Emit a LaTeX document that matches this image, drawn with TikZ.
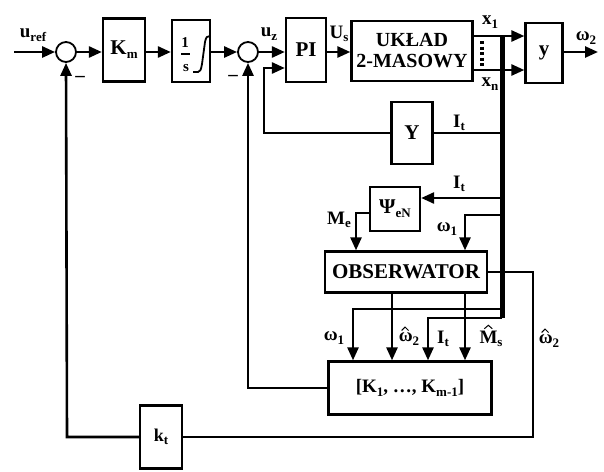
\documentclass[tikz,border=0pt]{standalone}
\usepackage{fontspec}
\setmainfont{Liberation Serif}
\usetikzlibrary{arrows.meta,calc}
\newcommand\lo[1]{\raisebox{-0.4ex}{\fontsize{13}{13}\selectfont #1}}
\begin{document}
\begin{tikzpicture}[x=1pt,y=-1pt,
  every node/.style={font=\fontsize{21}{23}\selectfont\bfseries},
  blk/.style={draw,line width=2.3pt,inner sep=0pt},
  sumc/.style={draw,circle,line width=1.8pt,minimum size=20pt,inner sep=0pt},
  ln/.style={line width=2.6pt},
  arr/.style={line width=2.6pt,-{Triangle[length=13pt,width=11pt]}},
  hatmark/.style={line width=1pt,line join=miter},
  lbl/.style={inner sep=0pt,font=\fontsize{19}{21}\selectfont\bfseries}]
\useasboundingbox (0,0) rectangle (604,471);
% blocks
\node[sumc] (s1) at (66,52) {};
\node[blk,minimum width=42pt,minimum height=63pt] (Km) at (124,50) {K\lo{m}};
\node[blk,minimum width=38pt,minimum height=62pt] (ig) at (191,51) {};
\node[sumc] (s2) at (248,52) {};
\node[blk,minimum width=40pt,minimum height=64pt] (PI) at (306,50) {PI};
\node[blk,minimum width=121pt,minimum height=60pt,align=center,font=\fontsize{20}{21}\selectfont\bfseries] (UK) at (412,51) {UKŁAD\\2-MASOWY};
\node[blk,minimum width=37pt,minimum height=60pt] (yb) at (544,53) {y};
\node[blk,minimum width=41pt,minimum height=62pt] (Yb) at (412,133) {Y};
\node[blk,minimum width=50pt,minimum height=44pt] (Psi) at (395,209) {Ψ\lo{eN}};
\node[blk,minimum width=162pt,minimum height=41pt] (Obs) at (406,272) {OBSERWATOR};
\node[blk,minimum width=163pt,minimum height=53pt,font=\fontsize{19}{21}\selectfont\bfseries] (Kb) at (410,388) {[K\lo{1}, …, K\lo{m-1}]};
\node[blk,minimum width=42pt,minimum height=63pt,font=\fontsize{18}{20}\selectfont\bfseries] (kt) at (161,437) {k\lo{t}};
% integrator contents
\node[inner sep=0pt,font=\fontsize{15}{16}\selectfont\bfseries] (one) at (185,43) {1};
\node[inner sep=0pt,font=\fontsize{15}{16}\selectfont\bfseries] (ess) at (186,68) {s};
\draw[line width=1.2pt] (181,54) -- (190,54);
\draw[line width=1.8pt] (193,72) -- (198,72) .. controls (200,72) and (201,70) .. (202,64) -- (205,42) .. controls (206,37) and (207,36) .. (210,36);
% input and forward path
\coordinate (in) at (14,52);
\draw[arr] (in) -- (s1.west);
\draw[arr] (s1.east) -- (s1.east -| Km.west);
\draw[arr] (Km.east |- s1.east) -- (ig.west |- s1.east);
\draw[arr] (ig.east |- s1.east) -- (s2.west);
\draw[arr] (s2.east) -- (s2.east -| PI.west);
\draw[arr] (PI.east |- s2.east) -- (UK.west |- s2.east);
\draw[arr] (UK.east |- 0,36) -- (yb.west |- 0,36);
\draw[arr] (UK.east |- 0,70) -- (yb.west |- 0,70);
\coordinate (out) at (598,52);
\draw[arr] (yb.east |- out) -- (out);
\draw[line width=3.2pt,dash pattern=on 3pt off 2.5pt] (482,41) -- (482,67);
% measurement bus
\coordinate (bt) at (502,36);
\coordinate (bb) at (502,318);
\draw[line width=5pt] (bt) -- (bb);
% Y feedback
\coordinate (y1) at (502,133);
\coordinate (y2) at (264,133);
\coordinate (y3) at (264,68);
\draw[ln] (y1) -- (Yb.east |- y1);
\draw[arr] (Yb.west |- y1) -- (y2) -- (y3) -- (PI.west |- y3);
% Psi
\coordinate (p1) at (502,198);
\draw[arr] (p1) -- (Psi.east |- p1);
\coordinate (m1) at (356,213);
\draw[arr] (Psi.west |- m1) -- (m1) -- (m1 |- Obs.north);
\coordinate (w1) at (502,215);
\coordinate (w2) at (465,215);
\draw[arr] (w1) -- (w2) -- (w2 |- Obs.north);
% observer outputs
\coordinate (o1) at (392,293);
\coordinate (o2) at (465,293);
\draw[arr] (o1) -- (o1 |- Kb.north);
\draw[arr] (o2) -- (o2 |- Kb.north);
\coordinate (b1) at (502,309);
\coordinate (b2) at (353,309);
\draw[arr] (b1) -- (b2) -- (b2 |- Kb.north);
\coordinate (c2) at (428,318);
\draw[arr] (bb) -- (c2) -- (c2 |- Kb.north);
% K feedback to sum2
\coordinate (k1) at (248,388);
\draw[arr] (Kb.west) -- (k1) -- (s2.south);
% omega2 hat to kt
\coordinate (r1) at (533,272);
\coordinate (r2) at (533,437);
\draw[ln] (Obs.east |- r1) -- (r1) -- (r2) -- (kt.east |- r2);
\coordinate (l1) at (67,437);
\draw[arr] (kt.west |- l1) -- (l1) -- (s1.south);
% labels
\node[lbl] (lu) at (33,35) {u\lo{ref}};
\node[lbl] (lm1) at (80,79) {–};
\node[lbl] (lm2) at (233,78) {–};
\node[lbl] (luz) at (269,34) {u\lo{z}};
\node[lbl] (lus) at (339,34) {U\lo{s}};
\node[lbl] (lx1) at (490,22) {x\lo{1}};
\node[lbl] (lxn) at (490,84) {x\lo{n}};
\node[lbl] (lw2) at (586,38) {ω\lo{2}};
\node[lbl] (lit1) at (459,123) {I\lo{t}};
\node[lbl] (lit2) at (459,184) {I\lo{t}};
\node[lbl] (lme) at (339,220) {M\lo{e}};
\node[lbl] (lw1) at (447,229) {ω\lo{1}};
\node[lbl] (lw1b) at (334,338) {ω\lo{1}};
\node[lbl] (lwh) at (409,339) {ω\lo{2}};
\node[lbl] (lit3) at (443,339) {I\lo{t}};
\node[lbl] (lms) at (491,339) {M\lo{s}};
\node[lbl] (lwh2) at (549,341) {ω\lo{2}};
% hats
\draw[hatmark] ($(lwh.north west)+(3,-2)$) -- ++(3.5,-3.5) -- ++(3.5,3.5);
\draw[hatmark] ($(lwh2.north west)+(3,-2)$) -- ++(3.5,-3.5) -- ++(3.5,3.5);
\draw[hatmark] ($(lms.north west)+(5,-2)$) -- ++(4,-3.5) -- ++(4,3.5);
\end{tikzpicture}
\end{document}
